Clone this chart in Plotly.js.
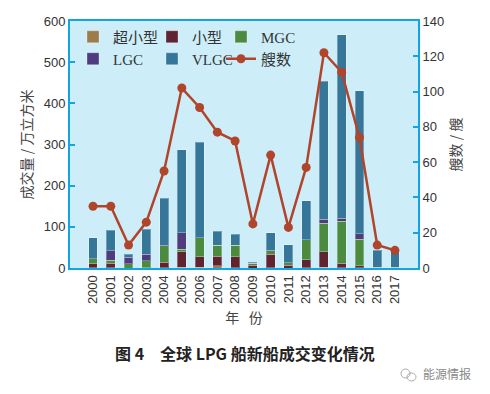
<!DOCTYPE html>
<html>
<head>
<meta charset="utf-8">
<script src="https://cdn.plot.ly/plotly-3.0.1.min.js"></script>
<style>html,body{margin:0;padding:0;background:#fff;}#chart{width:490px;height:394px;}</style>
</head>
<body>
<div id="chart"></div>
<script>
var years = ['2000','2001','2002','2003','2004','2005','2006','2007','2008','2009','2010','2011','2012','2013','2014','2015','2016','2017'];
var superSmall = [1,1,0,0,1,2,2,5,1,0,1,0,1,2,1,1,0,0];
var small = [9,11,0,1,13,38,25,24,26,7,32,7,19,37,10,5,2,0];
var mgc = [12,7,10,17,40,6,47,26,28,5,9,6,49,70,102,64,0,2];
var lgc = [0,23,16,16,1,40,0,0,0,0,1,0,0,10,8,13,0,0];
var vlgc = [51,50,8,60,115,201,232,34,27,2,43,43,94,335,446,347,41,44];
var ships = [35,35,13,26,55,102,91,77,72,25,64,23,57,122,111,74,13,10];

var names = ['超小型','小型','MGC','LGC','VLGC','艘数'];
var colors = ['#9e7b4b','#5f2331','#4b8a3f','#4f3c7e','#367698','#b0452b'];
var series = [superSmall, small, mgc, lgc, vlgc];

var blue = '#12a5e3';
var traces = [];
series.forEach(function(s, i){
  traces.push({
    type:'bar', x:years, y:s, name:names[i],
    marker:{color:colors[i], line:{color:'rgba(255,255,255,0.3)', width:1}},
    legend: i===0 ? 'legend' : 'legend'+(i+1),
    hoverinfo:'skip'
  });
});
traces.push({
  type:'scatter', mode:'lines+markers', x:years, y:ships, name:names[5], yaxis:'y2',
  line:{color:colors[5], width:2.5}, marker:{color:colors[5], size:9},
  legend:'legend6'
});

var legFont = {family:'Liberation Serif, Noto Sans CJK SC, serif', size:15, color:'#333'};
function leg(x, y){
  return {x:x, y:y, xanchor:'left', yanchor:'middle', bgcolor:'rgba(0,0,0,0)', font:legFont, itemwidth:30, borderwidth:0};
}
var r1 = 1-(37-21)/247, r2 = 1-(59-21)/247;
var c1 = 3/348, c2 = (162-80)/348, c3 = (231-80)/348;

var tickFont = {family:'Liberation Sans, Noto Sans CJK SC, sans-serif', size:13, color:'#333'};
var titleFont = {family:'Noto Sans CJK SC, sans-serif', size:14, color:'#444'};

var layout = {
  width:490, height:394,
  margin:{l:70, r:72, t:21, b:126},
  paper_bgcolor:'#ffffff', plot_bgcolor:'#cdeef9',
  barmode:'stack', bargap:0.5,
  showlegend:true,
  legend:leg(c1,r1), legend2:leg(c2,r1), legend3:leg(c3,r1),
  legend4:leg(c1,r2), legend5:leg(c2,r2), legend6:leg(c3,r2),
  xaxis:{type:'category', tickangle:-90, tickfont:tickFont, showline:true, mirror:true, linecolor:blue, linewidth:2, ticks:'', showgrid:false, zeroline:false,
    title:{text:'年   份', font:titleFont, standoff:10}},
  yaxis:{range:[0,600], dtick:100, tickfont:tickFont, showline:true, linecolor:blue, linewidth:2, ticks:'inside', ticklen:5, tickwidth:2, tickcolor:blue, showgrid:false, zeroline:false,
    title:{text:'成交量 / 万立方米', font:titleFont, standoff:8}},
  yaxis2:{range:[0,140], dtick:20, overlaying:'y', side:'right', tickfont:tickFont, showline:true, linecolor:blue, linewidth:2, ticks:'inside', ticklen:5, tickwidth:2, tickcolor:blue, showgrid:false, zeroline:false,
    title:{text:'艘数 / 艘', font:titleFont, standoff:8}},
  annotations:[
    {xref:'paper', yref:'paper', x:(245-70)/348, y:-(353-268)/247, xanchor:'center', yanchor:'middle', showarrow:false,
     text:'<b>图 4　全球 LPG 船新船成交变化情况</b>', font:{family:'Noto Sans CJK SC, sans-serif', size:16, color:'#222'}},
    {xref:'paper', yref:'paper', x:(473-70)/348, y:-(373-268)/247, xanchor:'right', yanchor:'middle', showarrow:false,
     text:'能源情报', font:{family:'Noto Sans CJK SC, sans-serif', size:12, color:'#888'}}
  ],
  shapes:[
    {type:'circle', xref:'paper', yref:'paper', x0:(401-70)/348, x1:(410-70)/348, y0:-(378-268)/247, y1:-(369-268)/247, line:{color:'#aaa', width:1}},
    {type:'circle', xref:'paper', yref:'paper', x0:(407-70)/348, x1:(416-70)/348, y0:-(381-268)/247, y1:-(373-268)/247, line:{color:'#aaa', width:1}}
  ]
};

Plotly.newPlot('chart', traces, layout, {displayModeBar:false, staticPlot:true});
</script>
</body>
</html>
